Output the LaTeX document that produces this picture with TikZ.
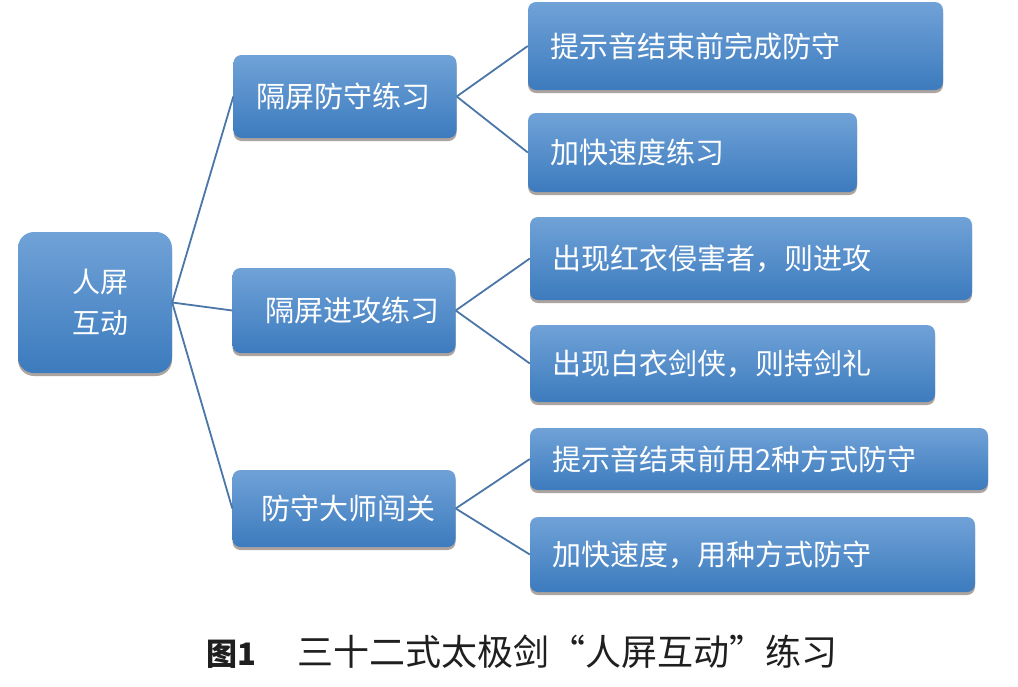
\documentclass[tikz,border=0pt]{standalone}
\usepackage{fontspec}
\newfontfamily\cjk{Noto Sans CJK SC}
\usetikzlibrary{shadows}
\definecolor{boxtop}{RGB}{112,162,215}
\definecolor{boxbot}{RGB}{60,123,190}
\definecolor{linec}{RGB}{74,118,168}
\definecolor{shadowc}{RGB}{95,75,65}
\tikzset{
  box/.style={rounded corners=8pt, top color=boxtop, bottom color=boxbot, draw=none,
    text=white, font=\cjk\fontsize{29}{34}\selectfont, inner xsep=0pt, inner ysep=0pt,
    drop shadow={shadow xshift=0pt, shadow yshift=-3pt, opacity=0.5, fill=shadowc}},
  leaf/.style={box, align=left, inner xsep=22pt},
  mid/.style={box, align=center, minimum width=223pt},
  conn/.style={draw=linec, line width=1.8pt},
}
\begin{document}
\begin{tikzpicture}[x=1pt,y=-1pt]
\useasboundingbox[fill=white] (0,0) rectangle (1018,686);
% root
\node[box, rounded corners=16pt, align=center, minimum width=154pt, minimum height=141pt,
  font=\cjk\fontsize{28}{41}\selectfont] (root) at (95,302.5) {\hspace*{10pt}人屏\\\hspace*{10pt}互动};
% middle
\node[mid, minimum height=83pt] (m1) at (345,96.5) {\hspace*{-4pt}隔屏防守练习};
\node[mid, minimum height=85pt] (m2) at (344,310.5) {\hspace*{16pt}隔屏进攻练习};
\node[mid, minimum height=77pt] (m3) at (344,508.5) {\hspace*{8pt}防守大师闯关};
% leaves
\node[leaf, text width=371pt, minimum height=88pt] (l1) at (735.5,46) {提示音结束前完成防守};
\node[leaf, text width=285pt, minimum height=79pt] (l2) at (692.5,152.5) {加快速度练习};
\node[leaf, text width=398pt, minimum height=83pt] (l3) at (751,258.5) {出现红衣侵害者，则进攻};
\node[leaf, text width=361pt, minimum height=77pt] (l4) at (732.5,363.5) {出现白衣剑侠，则持剑礼};
\node[leaf, text width=414pt, minimum height=62pt] (l5) at (759,459) {提示音结束前用2种方式防守};
\node[leaf, text width=401pt, minimum height=75pt] (l6) at (752.5,554.5) {加快速度，用种方式防守};
% connectors
\draw[conn] (root.east) -- (m1.west);
\draw[conn] (root.east) -- (m2.west);
\draw[conn] (root.east) -- (m3.west);
\draw[conn] (m1.east) -- (l1.west);
\draw[conn] (m1.east) -- (l2.west);
\draw[conn] (m2.east) -- (l3.west);
\draw[conn] (m2.east) -- (l4.west);
\draw[conn] (m3.east) -- (l5.west);
\draw[conn] (m3.east) -- (l6.west);
% caption
\node[font=\cjk\fontsize{36}{40}\selectfont, text=black!88, anchor=west, inner sep=0pt] (cap) at (206,652)
  {{\bfseries\fontsize{31}{36}\selectfont 图1}\hspace{41pt}三十二式太极剑\makebox[36pt][r]{“}人屏互动\makebox[36pt][l]{”}练习};
\end{tikzpicture}
\end{document}
